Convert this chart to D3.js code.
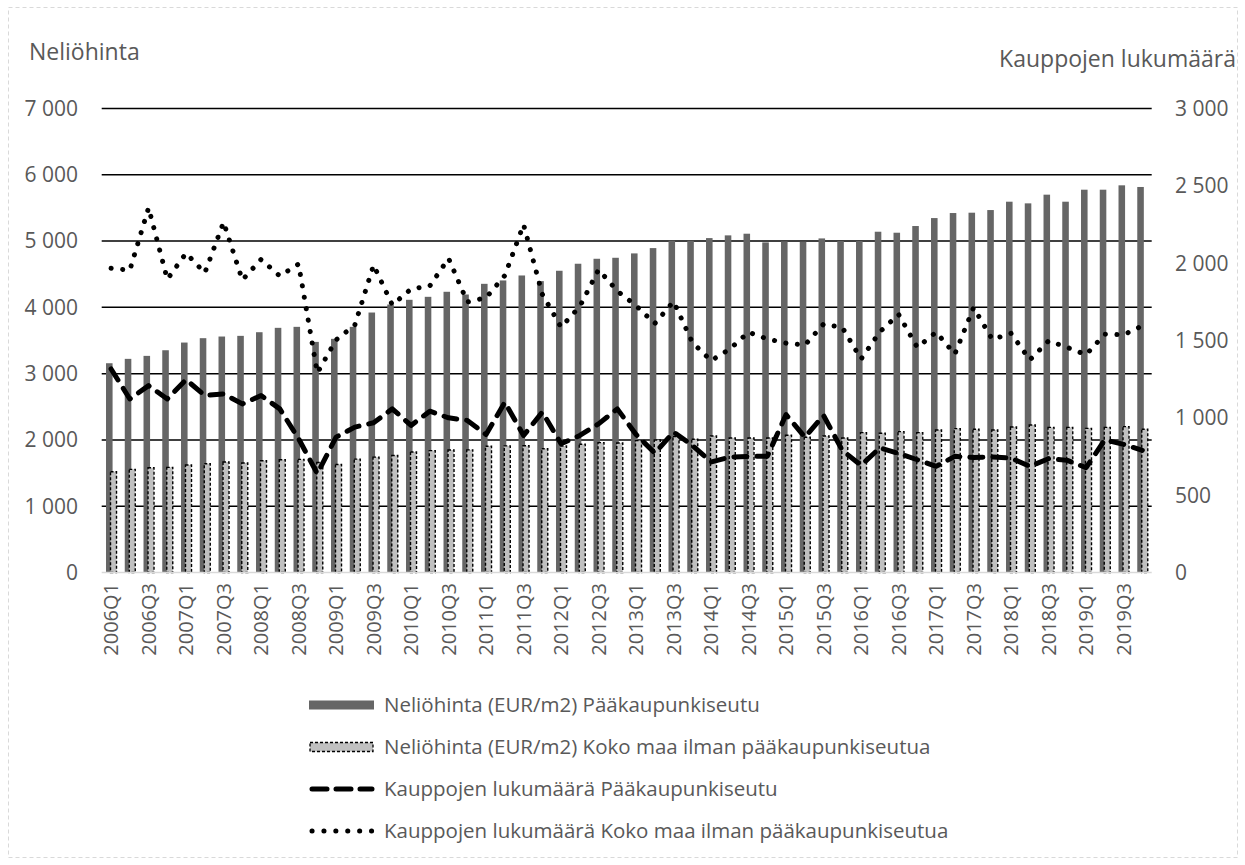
<!DOCTYPE html>
<html><head><meta charset="utf-8">
<script src="https://cdn.jsdelivr.net/npm/d3@7"></script>
<style>body{margin:0;background:#fff} text{font-family:"Open Sans",sans-serif;fill:#595959}</style>
</head><body><svg id="c" width="1245" height="865"></svg>
<script>
const categories = ["2006Q1","2006Q2","2006Q3","2006Q4","2007Q1","2007Q2","2007Q3","2007Q4",
"2008Q1","2008Q2","2008Q3","2008Q4","2009Q1","2009Q2","2009Q3","2009Q4",
"2010Q1","2010Q2","2010Q3","2010Q4","2011Q1","2011Q2","2011Q3","2011Q4",
"2012Q1","2012Q2","2012Q3","2012Q4","2013Q1","2013Q2","2013Q3","2013Q4",
"2014Q1","2014Q2","2014Q3","2014Q4","2015Q1","2015Q2","2015Q3","2015Q4",
"2016Q1","2016Q2","2016Q3","2016Q4","2017Q1","2017Q2","2017Q3","2017Q4",
"2018Q1","2018Q2","2018Q3","2018Q4","2019Q1","2019Q2","2019Q3","2019Q4"];

const priceCapital = [3157,3223,3268,3353,3469,3535,3560,3570,3625,3691,
3706,3479,3525,3706,3922,4043,4114,4159,4235,4194,
4355,4406,4481,4396,4552,4658,4733,4748,4814,4894,
5005,5005,5045,5086,5111,4980,4995,4990,5040,5000,
5000,5141,5126,5227,5347,5423,5428,5468,5594,5569,
5700,5594,5775,5775,5841,5816];

const priceRest = [1521,1556,1581,1586,1621,1641,1667,1652,1687,1702,
1707,1660,1630,1710,1740,1765,1818,1838,1848,1850,
1905,1910,1913,1868,1908,1934,1959,1954,1990,2000,
2050,2010,2060,2030,2030,2030,2070,2040,2060,2030,
2110,2100,2125,2110,2150,2170,2160,2150,2195,2226,
2190,2190,2175,2190,2200,2160];

const salesCapital = [1316,1122,1208,1122,1247,1144,1155,1090,1144,1058,
865,639,875,940,968,1058,951,1043,1000,983,
892,1101,886,1037,832,886,961,1058,892,772,
908,822,714,746,751,751,1021,875,1015,789,
693,806,770,729,686,751,744,747,740,686,
736,725,678,858,828,790];

const salesRest = [1967,1955,2358,1896,2065,1937,2265,1891,2024,1917,
1994,1290,1504,1600,1988,1730,1833,1853,2031,1749,
1777,1920,2250,1799,1586,1720,1958,1820,1725,1610,
1752,1488,1370,1445,1554,1510,1483,1470,1606,1584,
1380,1556,1669,1455,1554,1412,1713,1507,1546,1375,
1498,1455,1408,1541,1537,1595];

const leftTicks = [0,1000,2000,3000,4000,5000,6000,7000];
const rightTicks = [0,500,1000,1500,2000,2500,3000];
const seriesNames = ["Neliöhinta (EUR/m2) Pääkaupunkiseutu",
  "Neliöhinta (EUR/m2) Koko maa ilman pääkaupunkiseutua",
  "Kauppojen lukumäärä Pääkaupunkiseutu",
  "Kauppojen lukumäärä Koko maa ilman pääkaupunkiseutua"];
const leftTitle = "Neliöhinta";
const rightTitle = "Kauppojen lukumäärä";

const svg = d3.select("#c");
const L = 101.7, R = 1151.7, T = 108.5, B = 572.5;
const x = d3.scaleBand().domain(categories).range([L, R]);
const yL = d3.scaleLinear().domain([0, 7000]).range([B, T]);
const yR = d3.scaleLinear().domain([0, 3000]).range([B, T]);
const fmt = d3.formatLocale({decimal: ",", thousands: " ", grouping: [3], currency: ["", ""]}).format(",d");
const bw = x.bandwidth();
const cx = c => x(c) + bw / 2;

// outer border
svg.append("rect").attr("x", 8.5).attr("y", 7.5).attr("width", 1229).attr("height", 850)
  .attr("fill", "none").attr("stroke", "#d9d9d9").attr("stroke-dasharray", "4,3");

// titles
svg.append("text").attr("x", 29).attr("y", 60).attr("font-size", 23).text(leftTitle);
svg.append("text").attr("x", 1236).attr("y", 67).attr("font-size", 23).attr("text-anchor", "end").text(rightTitle);

// gridlines
svg.append("g").selectAll("line").data(leftTicks.filter(d => d > 0)).join("line")
  .attr("x1", L).attr("x2", R).attr("y1", d => yL(d)).attr("y2", d => yL(d))
  .attr("stroke", "#000").attr("stroke-width", 1.5);

// left axis labels
svg.append("g").selectAll("text").data(leftTicks).join("text")
  .attr("x", 78).attr("y", d => yL(d)).attr("dy", "0.35em").attr("text-anchor", "end")
  .attr("font-size", 21).text(d => fmt(d));
// right axis labels
svg.append("g").selectAll("text").data(rightTicks).join("text")
  .attr("x", 1175).attr("y", d => yR(d)).attr("dy", "0.35em").attr("text-anchor", "start")
  .attr("font-size", 21).text(d => fmt(d));

// bars
svg.append("g").selectAll("rect").data(categories).join("rect")
  .attr("x", c => x(c) + bw * 0.23).attr("width", bw * 0.35)
  .attr("y", (c, i) => yL(priceCapital[i])).attr("height", (c, i) => B - yL(priceCapital[i]))
  .attr("fill", "#666666");
svg.append("g").selectAll("rect").data(categories).join("rect")
  .attr("x", c => x(c) + bw * 0.47).attr("width", bw * 0.32)
  .attr("y", (c, i) => yL(priceRest[i])).attr("height", (c, i) => B - yL(priceRest[i]))
  .attr("fill", "#c0c0c0").attr("stroke", "#000").attr("stroke-width", 1.4)
  .attr("stroke-dasharray", "3,2");

// baseline
svg.append("line").attr("x1", L).attr("x2", R).attr("y1", B).attr("y2", B)
  .attr("stroke", "#d9d9d9").attr("stroke-width", 1.5);

// lines
const lineR = d3.line().x((d, i) => cx(categories[i])).y(d => yR(d));
svg.append("path").attr("d", lineR(salesRest)).attr("fill", "none").attr("stroke", "#000")
  .attr("stroke-width", 5).attr("stroke-linecap", "round").attr("stroke-linejoin", "round")
  .attr("stroke-dasharray", "0.1,11.5");
svg.append("path").attr("d", lineR(salesCapital)).attr("fill", "none").attr("stroke", "#000")
  .attr("stroke-width", 5).attr("stroke-linecap", "round").attr("stroke-linejoin", "round")
  .attr("stroke-dasharray", "13,10");

// x labels
svg.append("g").selectAll("text").data(categories.filter((c, i) => i % 2 === 0)).join("text")
  .attr("transform", c => `translate(${cx(c)},583) rotate(-90)`)
  .attr("dy", "0.35em").attr("text-anchor", "end").attr("font-size", 20).text(c => c);

// legend
const lg = svg.append("g");
const ly = [705, 747, 789, 831];
const sx = 309, sw = 65, tx = 384;
lg.append("rect").attr("x", sx).attr("y", ly[0] - 4.5).attr("width", sw).attr("height", 9).attr("fill", "#666666");
lg.append("rect").attr("x", sx + 1).attr("y", ly[1] - 4.5).attr("width", sw - 2).attr("height", 9)
  .attr("fill", "#c0c0c0").attr("stroke", "#000").attr("stroke-width", 1.3).attr("stroke-dasharray", "3,2");
lg.append("line").attr("x1", sx + 3).attr("x2", sx + sw - 2).attr("y1", ly[2]).attr("y2", ly[2])
  .attr("stroke", "#000").attr("stroke-width", 5).attr("stroke-linecap", "round").attr("stroke-dasharray", "15,9");
lg.append("line").attr("x1", sx + 3).attr("x2", sx + sw).attr("y1", ly[3]).attr("y2", ly[3])
  .attr("stroke", "#000").attr("stroke-width", 5).attr("stroke-linecap", "round").attr("stroke-dasharray", "0.1,11.8");
lg.selectAll("text.l").data(seriesNames).join("text").attr("class", "l")
  .attr("x", tx).attr("y", (d, i) => ly[i]).attr("dy", "0.35em").attr("font-size", 20.5).text(d => d);
</script></body></html>
